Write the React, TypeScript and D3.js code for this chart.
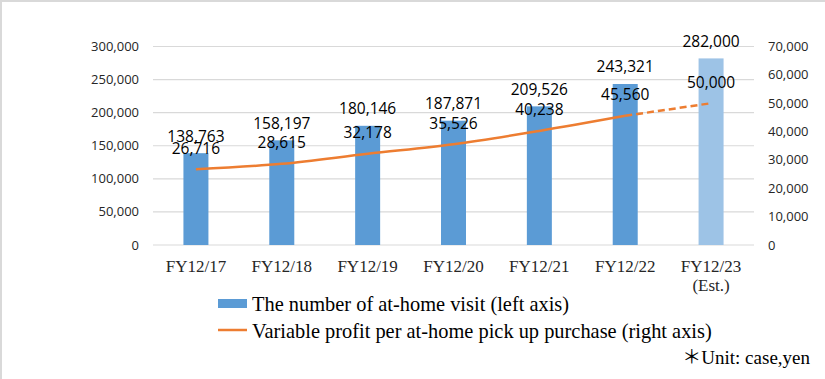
import React from "react";
import * as d3 from "d3";

const categories = ["FY12/17", "FY12/18", "FY12/19", "FY12/20", "FY12/21", "FY12/22", "FY12/23"];
const categorySub = ["", "", "", "", "", "", "(Est.)"];
const visits = [138763, 158197, 180146, 187871, 209526, 243321, 282000];
const profit = [26716, 28615, 32178, 35526, 40238, 45560, 50000];
const estimateFlags = [false, false, false, false, false, false, true];
const leftTicks = [0, 50000, 100000, 150000, 200000, 250000, 300000];
const rightTicks = [0, 10000, 20000, 30000, 40000, 50000, 60000, 70000];
const legendLabels = [
  "The number of at-home visit (left axis)",
  "Variable profit per at-home pick up purchase (right axis)",
];
const unitNote = "＊Unit: case,yen";

const W = 825;
const H = 379;
const plotLeft = 153;
const plotRight = 754;
const plotTop = 46.5;
const plotBottom = 245;

const barColor = "#5B9BD5";
const barEstColor = "#9DC3E6";
const lineColor = "#ED7D31";
const sans = "'Open Sans', 'Noto Sans', sans-serif";
const serif = "'Liberation Serif', 'Times New Roman', 'Noto Sans CJK JP', serif";

export default function App() {
  const x = d3.scaleBand<string>().domain(categories).range([plotLeft, plotRight]).paddingInner(0).paddingOuter(0);
  const yL = d3.scaleLinear().domain([0, 300000]).range([plotBottom, plotTop]);
  const yR = d3.scaleLinear().domain([0, 70000]).range([plotBottom, plotTop]);
  const fmt = d3.format(",");
  const bw = 25;
  const cx = (c: string) => (x(c) as number) + x.bandwidth() / 2;

  const pts = categories.map((c, i) => [cx(c), yR(profit[i])] as [number, number]);
  const line = d3.line().curve(d3.curveMonotoneX);
  const actualIdx = estimateFlags.map((f, i) => (!f ? i : -1)).filter((i) => i >= 0);
  const lastActual = actualIdx[actualIdx.length - 1];
  const solidPts = pts.slice(0, lastActual + 1);
  const dashPts = pts.slice(lastActual);

  return (
    <svg width={W} height={H} style={{ display: "block", position: "absolute", left: 0, top: 0 }}>
      <rect x={0} y={0} width={W} height={H} fill="#fff" />
      <line x1={1} y1={0} x2={1} y2={H} stroke="#d9d9d9" strokeWidth={2} />
      <line x1={0} y1={1} x2={W} y2={1} stroke="#d9d9d9" strokeWidth={2} />

      {leftTicks.map((t) => (
        <line key={"g" + t} x1={plotLeft} x2={plotRight} y1={yL(t)} y2={yL(t)} stroke="#d9d9d9" strokeWidth={1.2} />
      ))}
      {leftTicks.map((t) => (
        <text key={"l" + t} x={139} y={yL(t)} dy="0.35em" textAnchor="end" fontFamily={sans} fontSize={13} fill="#262626">
          {fmt(t)}
        </text>
      ))}
      {rightTicks.map((t) => (
        <text key={"r" + t} x={768} y={yR(t)} dy="0.35em" textAnchor="start" fontFamily={sans} fontSize={13} fill="#262626">
          {fmt(t)}
        </text>
      ))}

      {categories.map((c, i) => (
        <rect
          key={"b" + c}
          x={cx(c) - bw / 2}
          y={yL(visits[i])}
          width={bw}
          height={plotBottom - yL(visits[i])}
          fill={estimateFlags[i] ? barEstColor : barColor}
        />
      ))}

      <path d={line(solidPts) || ""} fill="none" stroke={lineColor} strokeWidth={2.5} />
      <path d={line(dashPts) || ""} fill="none" stroke={lineColor} strokeWidth={2.5} strokeDasharray="7,4" />

      {categories.map((c, i) => (
        <text key={"vb" + c} x={cx(c)} y={yL(visits[i]) - 17} dy="0.35em" textAnchor="middle" fontFamily={sans} fontSize={15.5} fill="#000">
          {fmt(visits[i])}
        </text>
      ))}
      {categories.map((c, i) => (
        <text key={"vl" + c} x={cx(c)} y={yR(profit[i]) - 21} dy="0.35em" textAnchor="middle" fontFamily={sans} fontSize={15.5} fill="#000">
          {fmt(profit[i])}
        </text>
      ))}

      {categories.map((c, i) => (
        <g key={"x" + c}>
          <text x={cx(c)} y={266.5} dy="0.35em" textAnchor="middle" fontFamily={serif} fontSize={17} fill="#262626">
            {c}
          </text>
          {categorySub[i] && (
            <text x={cx(c)} y={285.5} dy="0.35em" textAnchor="middle" fontFamily={serif} fontSize={17} fill="#262626">
              {categorySub[i]}
            </text>
          )}
        </g>
      ))}

      <rect x={218} y={299} width={29} height={9} fill={barColor} />
      <text x={252} y={303.5} dy="0.35em" fontFamily={serif} fontSize={20.4} fill="#000">
        {legendLabels[0]}
      </text>
      <line x1={218} x2={247} y1={330} y2={330} stroke={lineColor} strokeWidth={2.5} />
      <text x={252} y={330.5} dy="0.35em" fontFamily={serif} fontSize={20.4} fill="#000">
        {legendLabels[1]}
      </text>
      <text x={810} y={357} dy="0.35em" textAnchor="end" fontFamily={serif} fontSize={19} fill="#000">
        {unitNote}
      </text>
    </svg>
  );
}
